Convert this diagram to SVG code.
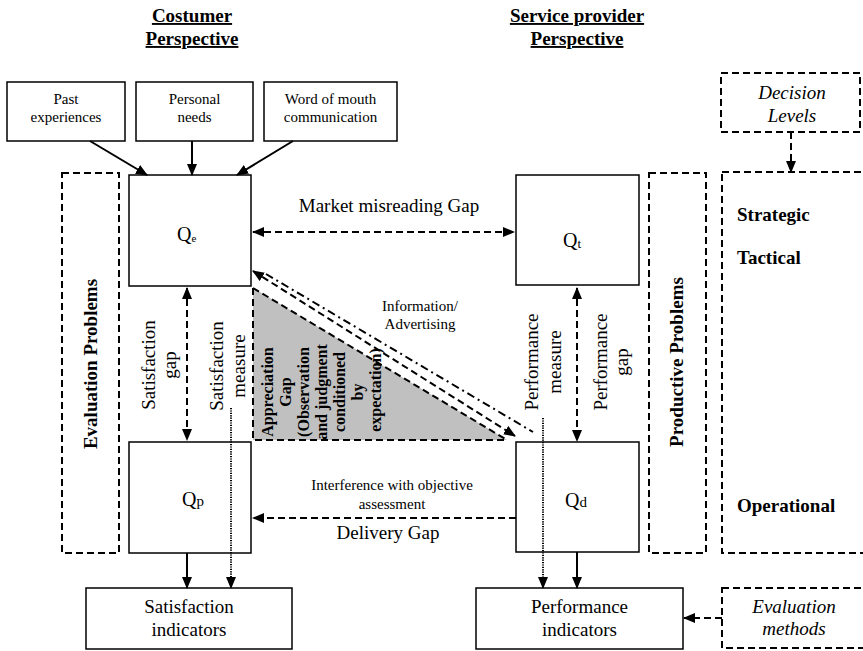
<svg xmlns="http://www.w3.org/2000/svg" width="863" height="651" viewBox="0 0 863 651">
<style>
text{font-family:"Liberation Serif","Times New Roman",serif;fill:#000}
.box{fill:#fff;stroke:#000;stroke-width:1.5}
.dbox{fill:none;stroke:#000;stroke-width:2;stroke-dasharray:7 4}
.solid{fill:none;stroke:#000;stroke-width:2}
.dash{fill:none;stroke:#000;stroke-width:2;stroke-dasharray:7 4}
.dot{fill:none;stroke:#000;stroke-width:2;stroke-dasharray:1.2 1.2}
.dashdot{fill:none;stroke:#000;stroke-width:2;stroke-dasharray:8 4 2 4}
.h{font-size:19px;font-weight:bold;text-decoration:underline}
.s15{font-size:15px}
.s19{font-size:19px}
.b19{font-size:19px;font-weight:bold}
.i19{font-size:19px;font-style:italic}
.q{font-size:20px}
</style>
<defs>
<marker id="ah" viewBox="0 0 12 10" refX="11" refY="5" markerWidth="12" markerHeight="10" markerUnits="userSpaceOnUse" orient="auto-start-reverse">
<path d="M0,0 L12,5 L0,10 z" fill="#000" stroke="none"/>
</marker>
</defs>
<rect width="863" height="651" fill="#fff"/>

<g id="headings" text-anchor="middle">
<text class="h" x="192" y="22">Costumer</text>
<text class="h" x="192" y="45">Perspective</text>
<text class="h" x="577" y="22">Service provider</text>
<text class="h" x="577" y="45">Perspective</text>
</g>

<g id="appreciation-gap">
<polygon points="253,288 253,440 507,440" fill="#c0c0c0"/>
<path class="dash" d="M253,288 L253,440 L507,440 M253,288 L507,440"/>
<text font-size="16" font-weight="bold" text-anchor="middle" transform="translate(0,390) rotate(-90)">
<tspan x="0" y="273">Appreciation</tspan>
<tspan x="0" y="291">Gap</tspan>
<tspan x="0" y="309">(Observation</tspan>
<tspan x="0" y="327">and judgment</tspan>
<tspan x="0" y="345">conditioned</tspan>
<tspan x="0" y="363">by</tspan>
<tspan x="0" y="381">expectation)</tspan>
</text>
</g>

<g id="past-experiences">
<rect class="box" x="7" y="82" width="118" height="59"/>
<text class="s15" text-anchor="middle" x="66" y="104">Past</text>
<text class="s15" text-anchor="middle" x="66" y="122">experiences</text>
</g>
<g id="personal-needs">
<rect class="box" x="136" y="82" width="117" height="59"/>
<text class="s15" text-anchor="middle" x="194.5" y="104">Personal</text>
<text class="s15" text-anchor="middle" x="194.5" y="122">needs</text>
</g>
<g id="word-of-mouth">
<rect class="box" x="264" y="82" width="133" height="59"/>
<text class="s15" text-anchor="middle" x="330.5" y="104">Word of mouth</text>
<text class="s15" text-anchor="middle" x="330.5" y="122">communication</text>
</g>

<g id="evaluation-problems">
<rect class="dbox" x="62" y="173" width="57" height="380"/>
<text class="b19" text-anchor="middle" transform="translate(97,364) rotate(-90)">Evaluation Problems</text>
</g>

<g id="productive-problems">
<rect class="dbox" x="649" y="173" width="57" height="380"/>
<text class="b19" text-anchor="middle" transform="translate(683,362) rotate(-90)">Productive Problems</text>
</g>

<g id="decision-levels">
<rect class="dbox" x="721" y="73" width="139" height="59"/>
<text class="i19" text-anchor="middle" x="792" y="99">Decision</text>
<text class="i19" text-anchor="middle" x="792" y="122">Levels</text>
</g>

<g id="levels">
<rect class="dbox" x="722" y="172" width="146" height="381"/>
<text class="b19" x="737" y="221">Strategic</text>
<text class="b19" x="737" y="264">Tactical</text>
<text class="b19" x="737" y="512">Operational</text>
</g>

<g id="evaluation-methods">
<rect class="dbox" x="722" y="588" width="146" height="60"/>
<text class="i19" text-anchor="middle" x="794" y="613">Evaluation</text>
<text class="i19" text-anchor="middle" x="794" y="635">methods</text>
</g>

<g id="qe">
<rect class="box" x="129" y="175" width="122" height="111"/>
<text class="q" x="177" y="241">Q<tspan font-size="11" dy="1">e</tspan></text>
</g>
<g id="qt">
<rect class="box" x="516" y="175" width="123" height="110"/>
<text class="q" x="563" y="247">Q<tspan font-size="13" dy="1">t</tspan></text>
</g>
<g id="qp">
<rect class="box" x="129" y="442" width="122" height="111"/>
<text class="q" x="182" y="506">Q<tspan font-size="15">p</tspan></text>
</g>
<g id="qd">
<rect class="box" x="516" y="442" width="123" height="110"/>
<text class="q" x="565" y="507">Q<tspan font-size="15">d</tspan></text>
</g>

<g id="satisfaction-indicators">
<rect class="box" x="86" y="588" width="206" height="61"/>
<text class="s19" text-anchor="middle" x="189" y="613">Satisfaction</text>
<text class="s19" text-anchor="middle" x="189" y="636">indicators</text>
</g>
<g id="performance-indicators">
<rect class="box" x="476" y="588" width="207" height="61"/>
<text class="s19" text-anchor="middle" x="579.5" y="613">Performance</text>
<text class="s19" text-anchor="middle" x="579.5" y="636">indicators</text>
</g>

<g id="connectors">
<line class="solid" x1="90" y1="141" x2="147" y2="175" marker-end="url(#ah)"/>
<line class="solid" x1="192" y1="141" x2="192" y2="175" marker-end="url(#ah)"/>
<line class="solid" x1="293" y1="141" x2="237" y2="175" marker-end="url(#ah)"/>
<line class="dash" x1="253" y1="232" x2="514" y2="232" marker-start="url(#ah)" marker-end="url(#ah)"/>
<line class="dash" x1="187" y1="288" x2="187" y2="440" marker-start="url(#ah)" marker-end="url(#ah)"/>
<line class="dash" x1="577" y1="288" x2="577" y2="441" marker-start="url(#ah)" marker-end="url(#ah)"/>
<line class="dash" x1="516" y1="518" x2="253" y2="518" marker-end="url(#ah)"/>
<line class="dash" x1="253" y1="271" x2="515" y2="436" marker-start="url(#ah)" marker-end="url(#ah)"/>
<line class="dashdot" x1="266" y1="274" x2="533" y2="432"/>
<line class="solid" x1="187" y1="553" x2="187" y2="588" marker-end="url(#ah)"/>
<line class="dot" x1="231" y1="408" x2="231" y2="588" marker-end="url(#ah)"/>
<line class="dot" x1="543" y1="418" x2="543" y2="588" marker-end="url(#ah)"/>
<line class="solid" x1="577" y1="552" x2="577" y2="588" marker-end="url(#ah)"/>
<line class="dash" x1="722" y1="618" x2="684" y2="618" marker-end="url(#ah)"/>
<line class="dash" x1="791" y1="132" x2="791" y2="172" marker-end="url(#ah)"/>
</g>

<g id="labels">
<text class="s19" text-anchor="middle" x="389" y="212">Market misreading Gap</text>
<text class="s15" text-anchor="middle" x="420" y="311">Information/</text>
<text class="s15" text-anchor="middle" x="420" y="329">Advertising</text>
<text class="s15" text-anchor="middle" x="392" y="490">Interference with objective</text>
<text class="s15" text-anchor="middle" x="392" y="509">assessment</text>
<text class="s19" text-anchor="middle" x="388" y="539">Delivery Gap</text>
<text class="s19" text-anchor="middle" transform="translate(0,365) rotate(-90)"><tspan x="0" y="155">Satisfaction</tspan><tspan x="0" y="176">gap</tspan></text>
<text class="s19" text-anchor="middle" transform="translate(0,366) rotate(-90)"><tspan x="0" y="223">Satisfaction</tspan><tspan x="0" y="245">measure</tspan></text>
<text class="s19" text-anchor="middle" transform="translate(0,362) rotate(-90)"><tspan x="0" y="538">Performance</tspan><tspan x="0" y="561">measure</tspan></text>
<text class="s19" text-anchor="middle" transform="translate(0,362) rotate(-90)"><tspan x="0" y="607">Performance</tspan><tspan x="0" y="628">gap</tspan></text>
</g>
</svg>
